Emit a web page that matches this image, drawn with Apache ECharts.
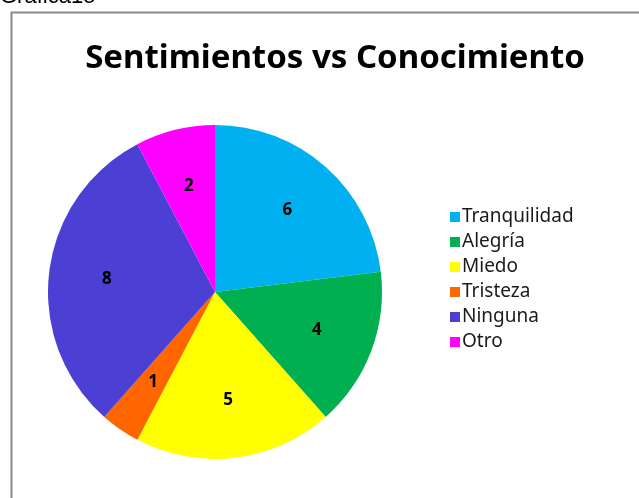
<!DOCTYPE html>
<html><head><meta charset="utf-8">
<script src="https://cdn.jsdelivr.net/npm/echarts@6/dist/echarts.min.js"></script>
<style>html,body{margin:0;padding:0;background:#fff}#c{width:639px;height:498px}</style>
</head><body><div id="c"></div>
<script>
var categories = ['Tranquilidad','Alegría','Miedo','Tristeza','Ninguna','Otro'];
var values = [6,4,5,1,8,2];
var colors = ['#00B0F0','#00B050','#FFFF00','#FF6600','#4B3FD4','#FF00FF'];
var titleText = 'Sentimientos vs Conocimiento';
var captionText = 'Grafica15';

var data = categories.map(function(c,i){return {name:c,value:values[i],itemStyle:{color:colors[i]}};});
var labelData = categories.map(function(c,i){return {name:c,value:values[i]};});
var chart = echarts.init(document.getElementById('c'));
chart.setOption({
  animation:false,
  backgroundColor:'#fff',
  title:{text:titleText,left:330,textAlign:'center',top:37,
    textStyle:{fontFamily:'Noto Sans',fontWeight:'bold',fontSize:33,color:'#000'}},
  legend:{orient:'vertical',left:445,top:202,itemWidth:10,itemHeight:10,itemGap:5,icon:'rect',
    data:categories,
    textStyle:{fontFamily:'Noto Sans',fontSize:19,lineHeight:20,color:'#1a1a1a',padding:[0,0,0,-3]}},
  graphic:[
    {type:'text',left:0,top:-14,style:{text:captionText,font:'22px "Liberation Sans"',fill:'#000'}},
    {type:'rect',shape:{x:11.5,y:12.5,width:700,height:600},style:{fill:'none',stroke:'#8a8a8a',lineWidth:2}}
  ],
  series:[
    {type:'pie',center:[215,292],radius:[0,167],startAngle:90,clockwise:true,
     data:data,label:{show:false},labelLine:{show:false},emphasis:{disabled:true},
     itemStyle:{borderWidth:0}},
    {type:'pie',center:[215,292],radius:[0,212],startAngle:90,clockwise:true,silent:true,
     legendHoverLink:false,
     data:labelData,itemStyle:{color:'rgba(0,0,0,0)'},
     label:{show:true,position:'inside',formatter:'{c}',fontFamily:'Noto Sans',fontWeight:'bold',fontSize:17,color:'#000'},
     labelLine:{show:false},emphasis:{disabled:true}}
  ]
});
</script></body></html>
